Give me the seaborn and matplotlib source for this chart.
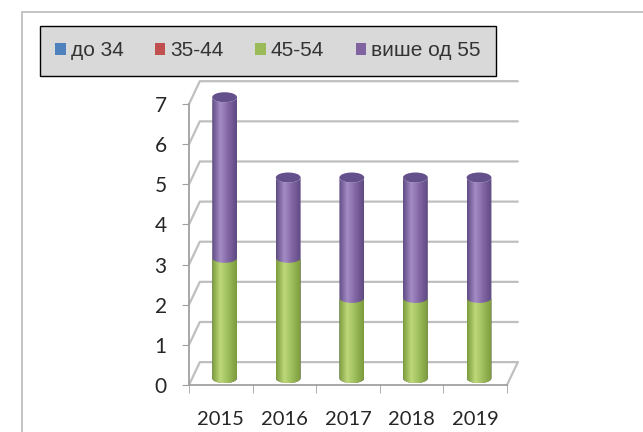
import numpy as np
import pandas as pd
import matplotlib
matplotlib.use("Agg")
import matplotlib.pyplot as plt
import seaborn as sns
from matplotlib.path import Path
from matplotlib.patches import PathPatch, Ellipse, Rectangle, Patch
from matplotlib.colors import LinearSegmentedColormap

# podaci sa grafika (broj po starosnim grupama)
godine = ['2015', '2016', '2017', '2018', '2019']
do_34 = [0, 0, 0, 0, 0]
od_35_44 = [0, 0, 0, 0, 0]
od_45_54 = [3, 3, 2, 2, 2]
vise_od_55 = [4, 2, 3, 3, 3]

grupe = ['до 34', '35-44', '45-54', 'више од 55']
boje = ['#4f81bd', '#c0504d', '#9bbb59', '#8064a2']
tamne = ['#3a6391', '#93393a', '#7a9a3c', '#5f4a82']
svetle = ['#7fa6d6', '#d98281', '#bdd97a', '#a48cc6']

df = pd.DataFrame({'godina': godine, 'g1': do_34, 'g2': od_35_44,
                   'g3': od_45_54, 'g4': vise_od_55})
kolone = ['g1', 'g2', 'g3', 'g4']
# kumulativne visine za slaganje
for i in range(len(kolone)):
    df['kum%d' % i] = df[kolone[:i + 1]].sum(axis=1)

sns.set_style('white')
plt.rcParams['font.family'] = ['Lato', 'DejaVu Sans']

fig = plt.figure(figsize=(6.43, 4.32), dpi=100)
ax = fig.add_axes([189 / 643, 47 / 432, 318 / 643, 305 / 432])

dx, dy = 0.17, 0.57      # pomeraj zadnjeg zida (3D efekat)
baza, pomak_x = 0.17, 0.06
kapa = 0.25              # visina elipse
siva = '#bfbfbf'

# zadnji zid: linije mreze sa kosim spojnicama
for v in range(0, 8):
    ax.plot([-0.5, -0.5 + dx, 4.5 + dx], [v, v + dy, v + dy], color=siva,
            lw=1.6, clip_on=False, zorder=1)
ax.plot([4.5 + dx, 4.5], [dy, 0], color=siva, lw=1.6, clip_on=False, zorder=1)

# cilindri: od najvise kumulativne ka nizoj
for i in reversed(range(len(kolone))):
    n0 = len(ax.patches)
    sns.barplot(data=df, x='godina', y='kum%d' % i, color=boje[i],
                saturation=1, width=0.39, ax=ax, zorder=3)
    cmap = LinearSegmentedColormap.from_list(
        'c%d' % i, [tamne[i], svetle[i], boje[i], tamne[i]])
    grad = np.linspace(0, 1, 256).reshape(1, -1)
    for p in ax.patches[n0:]:
        h = p.get_height()
        p.set_visible(False)
        if h <= 0:
            continue
        x0 = p.get_x() + pomak_x
        w = p.get_width()
        xc, a, b = x0 + w / 2, w / 2, kapa / 2
        y0, y1 = baza, baza + h
        t = np.linspace(np.pi, 2 * np.pi, 40)
        dole = np.column_stack([xc + a * np.cos(t), y0 + b * np.sin(t)])
        gore = np.column_stack([xc + a * np.cos(t[::-1]), y1 + b * np.sin(t[::-1])])
        tacke = np.vstack([dole, gore, dole[:1]])
        kodovi = [Path.MOVETO] + [Path.LINETO] * (len(tacke) - 2) + [Path.CLOSEPOLY]
        oblik = PathPatch(Path(tacke, kodovi), facecolor='none', edgecolor='none',
                          transform=ax.transData)
        ax.add_patch(oblik)
        im = ax.imshow(grad, cmap=cmap, aspect='auto', extent=(x0, x0 + w, y0 - b, y1 + b),
                       zorder=3 + (3 - i) * 0.1, interpolation='bilinear')
        im.set_clip_path(oblik)
        if i == len(kolone) - 1:
            ax.add_patch(Ellipse((xc, y1), w, kapa, facecolor='#64508a',
                                 edgecolor='none', zorder=4))

ax.set_xlim(-0.5, 4.5)
ax.set_ylim(0, 7.6)
ax.set_xlabel('')
ax.set_ylabel('')
ax.set_yticks(range(0, 8))
ax.set_xticks(range(5))
ax.set_xticks(np.arange(-0.5, 5, 1), minor=True)
ax.tick_params(axis='y', labelsize=15, length=5, color='#a0a0a0', pad=11, left=True)
ax.tick_params(axis='x', which='major', labelsize=14.5, length=0, pad=19)
ax.tick_params(axis='x', which='minor', length=6, color='#a0a0a0', bottom=True)
for s in ['top', 'right']:
    ax.spines[s].set_visible(False)
for s in ['left', 'bottom']:
    ax.spines[s].set_color('#a0a0a0')
    ax.spines[s].set_linewidth(1.3)
ax.spines['left'].set_bounds(0, 7)
ax.patch.set_alpha(0)

# legenda
ruke = [Patch(facecolor=c, edgecolor='none') for c in boje]
leg = fig.legend(ruke, grupe, loc='center', bbox_to_anchor=(268 / 643, 1 - 51 / 432),
                 ncol=4, frameon=True, fancybox=False, framealpha=1,
                 facecolor='#d9d9d9', edgecolor='#000000', handlelength=0.5,
                 handleheight=0.5, handletextpad=0.25, columnspacing=1.5,
                 borderpad=0.75, prop={'family': 'Liberation Sans', 'size': 15})
leg.get_frame().set_linewidth(1.0)
for t in leg.get_texts():
    t.set_color('#333333')

# okvir oko grafika
fig.patches.append(Rectangle((22 / 643, -0.1), 1.0, (432 - 12) / 432 + 0.1,
                             transform=fig.transFigure, fill=False,
                             edgecolor='#bfbfbf', lw=1.3))

fig.savefig('out.png', dpi=100)
